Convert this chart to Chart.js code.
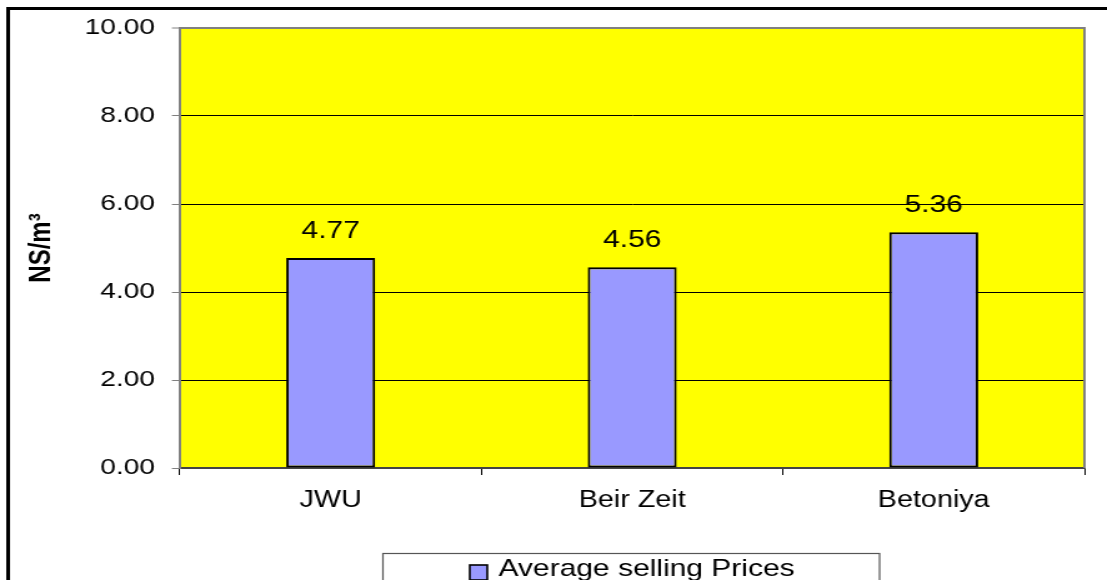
<!DOCTYPE html>
<html>
<head>
<meta charset="utf-8">
<script src="https://cdn.jsdelivr.net/npm/chart.js@4/dist/chart.umd.min.js"></script>
<style>
	body { margin: 0; background: #fff; overflow: hidden; }
	/* the original picture is stretched sideways, so the chart is too */
	.stretch { width: 886px; height: 580px; transform: scaleX(1.2494); transform-origin: 0 0; }
</style>
</head>
<body>
<div class="stretch"><canvas id="priceChart" width="886" height="580"></canvas></div>
<script>
// ================================ [ Data ] ================================
const categories = ["JWU", "Beir Zeit", "Betoniya"];
const avgPrices = [4.77, 4.56, 5.36];
const seriesName = "Average selling Prices";
const yTitle = "NS/m\u00B3";
const yMin = 0;
const yMax = 10;
const yStep = 2;

const FONT = "'Liberation Sans', Arial, sans-serif";
const GRAY = "#808080";

// yellow plot area + right border + outer frame
const frame = {
	id: "frame",
	beforeDraw: (chart) => {
		const {ctx, chartArea: a} = chart;
		ctx.save();
		ctx.fillStyle = "#ffff00";
		ctx.fillRect(a.left, a.top, a.right - a.left, a.bottom - a.top);
		ctx.restore();
	},
	afterDraw: (chart) => {
		const {ctx, chartArea: a} = chart;
		ctx.save();
		// right border of plot area
		ctx.strokeStyle = GRAY;
		ctx.lineWidth = 2;
		ctx.beginPath();
		ctx.moveTo(a.right, a.top - 1);
		ctx.lineTo(a.right, a.bottom);
		ctx.stroke();
		// outer frame (runs off the picture)
		ctx.strokeStyle = "#000";
		ctx.lineWidth = 3;
		ctx.strokeRect(6.5, 8.5, chart.width + 20, chart.height + 20);
		ctx.restore();
	}
};

// value labels over the bars
const valueLabels = {
	id: "valueLabels",
	afterDatasetsDraw: (chart) => {
		const {ctx} = chart;
		const meta = chart.getDatasetMeta(0);
		ctx.save();
		ctx.font = "24px " + FONT;
		ctx.fillStyle = "#000";
		ctx.textAlign = "center";
		ctx.textBaseline = "alphabetic";
		meta.data.forEach((bar, i) => {
			ctx.fillText(avgPrices[i].toFixed(2), bar.x, bar.y - 20);
		});
		ctx.restore();
	}
};

// legend box under the axis
const legendBox = {
	id: "legendBox",
	afterDraw: (chart) => {
		const {ctx} = chart;
		const ds = chart.data.datasets[0];
		ctx.save();
		ctx.fillStyle = "#fff";
		ctx.fillRect(306.5, 553.5, 397.5, 40);
		ctx.strokeStyle = "#555";
		ctx.lineWidth = 1.2;
		ctx.strokeRect(306.5, 553.5, 397.5, 40);
		// marker
		ctx.fillStyle = ds.backgroundColor;
		ctx.fillRect(376, 565, 14, 15);
		ctx.strokeStyle = "#000";
		ctx.lineWidth = 1.6;
		ctx.strokeRect(376, 565, 14, 15);
		// text
		ctx.fillStyle = "#000";
		ctx.font = "24px " + FONT;
		ctx.textAlign = "left";
		ctx.textBaseline = "alphabetic";
		ctx.fillText(ds.label, 399, 576);
		ctx.restore();
	}
};

new Chart(document.getElementById("priceChart"), {
	type: "bar",
	data: {
		labels: categories,
		datasets: [{
			label: seriesName,
			data: avgPrices,
			backgroundColor: "#9999ff",
			borderColor: "#000",
			borderWidth: 2,
			borderSkipped: false,
			barPercentage: 0.295,
			categoryPercentage: 1
		}]
	},
	options: {
		responsive: false,
		devicePixelRatio: 1,
		animation: false,
		layout: {
			padding: { left: 0, top: 28, right: 18, bottom: 52 }
		},
		plugins: {
			legend: { display: false },
			tooltip: { enabled: false }
		},
		scales: {
			x: {
				offset: true,
				grid: {
					offset: true,
					drawOnChartArea: false,
					color: "#000",
					tickLength: 7,
					tickWidth: 1
				},
				border: { color: "#444", width: 2 },
				ticks: {
					color: "#000",
					padding: 12,
					font: { family: FONT, size: 23 }
				},
				afterFit: (scale) => { scale.height = 60; }
			},
			y: {
				min: yMin,
				max: yMax,
				grid: {
					color: (c) => c.tick && c.tick.value === yMax ? GRAY : "#000",
					lineWidth: (c) => c.tick && c.tick.value === yMax ? 2 : 1,
					tickColor: GRAY,
					tickWidth: 1,
					tickLength: 6.4
				},
				border: { color: GRAY, width: 2 },
				ticks: {
					stepSize: yStep,
					color: "#000",
					padding: 13.6,
					font: { family: FONT, size: 22.5 },
					callback: (v) => Number(v).toFixed(2)
				},
				title: {
					display: true,
					text: yTitle,
					color: "#000",
					padding: { top: 19, bottom: 4 },
					font: { family: FONT, size: 24, weight: "bold" }
				},
				afterFit: (scale) => { scale.width = 144; }
			}
		}
	},
	plugins: [frame, valueLabels, legendBox]
});
</script>
</body>
</html>
